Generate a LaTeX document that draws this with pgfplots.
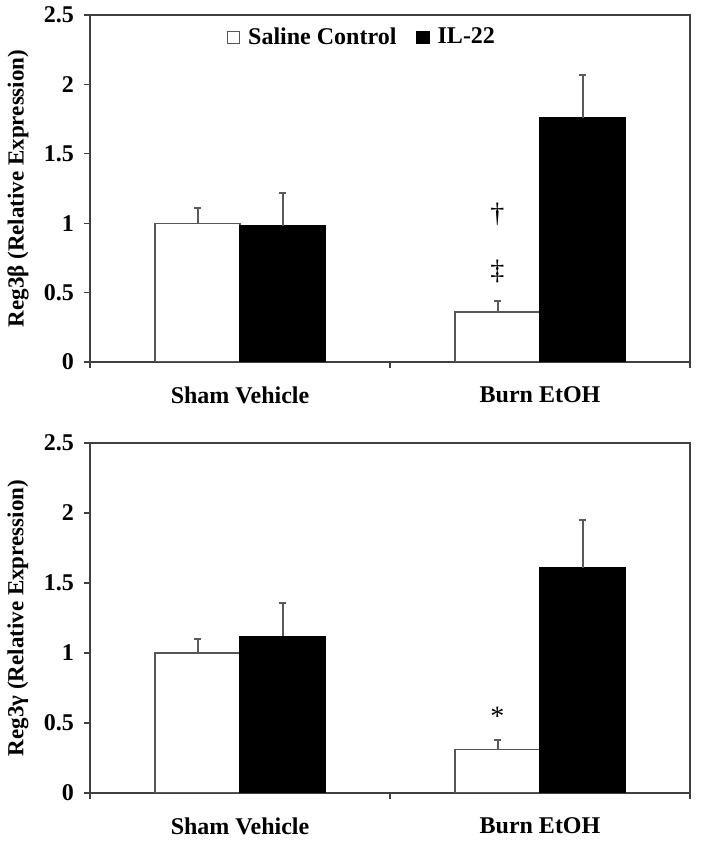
\documentclass[border=0pt]{standalone}
\usepackage{pgfplots}
\pgfplotsset{compat=1.18}
\usepackage{fontspec}
\setmainfont{Liberation Serif}
\definecolor{axgray}{HTML}{404040}
\definecolor{bargray}{HTML}{555555}
\definecolor{errgray}{HTML}{5A5A5A}

% Reg3b: x, mean, +error
\pgfplotstableread{
x y ey
0 1.00 0.11
1 0.36 0.08
}\regbsal
\pgfplotstableread{
x y ey
0 0.98 0.24
1 1.76 0.31
}\regbil
% Reg3g
\pgfplotstableread{
x y ey
0 1.00 0.10
1 0.31 0.07
}\reggsal
\pgfplotstableread{
x y ey
0 1.12 0.24
1 1.61 0.34
}\reggil

\pgfplotsset{
  panel/.style={
    scale only axis, width=300pt,
    xmin=-0.5, xmax=1.5, ymin=0, ymax=2.5,
    axis line style={axgray, line width=0.7pt},
    ytick={0,0.5,...,2.5},
    xtick={-0.5,0.5,1.5}, xticklabels={},
    tick style={axgray, line width=0.6pt},
    tick align=outside, tick pos=left, major tick length=3pt,
    extra x ticks={0,1},
    extra x tick labels={Sham Vehicle, Burn EtOH},
    extra x tick style={major tick length=0pt, tick label style={yshift=-9pt}},
    /pgf/number format/assume math mode=true,
    tick label style={font=\fontsize{12}{14}\selectfont\bfseries},
    yticklabel style={xshift=-1.5pt},
    ylabel style={at={(axis description cs:-0.12,0.5)}, anchor=center,
      font=\fontsize{11.5}{13}\selectfont\bfseries},
    ybar=0pt, bar width=42.5pt,
    error bars/y dir=plus, error bars/y explicit,
    error bars/error bar style={errgray, line width=1pt},
    error bars/error mark options={errgray, line width=1pt, mark size=1.6pt, rotate=90},
    legend image code/.code={\draw[#1] (0pt,-3pt) rectangle (6pt,3pt);},
  },
  salbar/.style={fill=white, draw=bargray, line width=0.6pt, bar shift=-21.25pt},
  ilbar/.style={fill=black, draw=black, line width=0.6pt, bar shift=21.25pt},
}

\begin{document}
\begin{tikzpicture}
\useasboundingbox (0,0) rectangle (350.5pt,424.5pt);

\begin{axis}[panel, at={(45pt,243.5pt)}, anchor=south west, height=173.5pt,
  ylabel={Reg3β (Relative Expression)},
  legend columns=2,
  legend style={at={(0.455,0.935)}, anchor=center, draw=none, fill=none,
    font=\fontsize{12}{14}\selectfont\bfseries,
    /tikz/every even column/.append style={column sep=8pt}},
]
\addplot[salbar] table[x=x, y=y, y error=ey] {\regbsal};
\addplot[ilbar] table[x=x, y=y, y error=ey] {\regbil};
\legend{\hspace{2pt}Saline Control, \hspace{2pt}IL-22}
\node[font=\fontsize{14}{16}\selectfont] at (axis cs:0.858,1.06) {\textdagger};
\node[font=\fontsize{14}{16}\selectfont] at (axis cs:0.858,0.65) {\textdaggerdbl};
\end{axis}

\begin{axis}[panel, at={(45pt,28pt)}, anchor=south west, height=175pt,
  ylabel={Reg3γ (Relative Expression)},
]
\addplot[salbar] table[x=x, y=y, y error=ey] {\reggsal};
\addplot[ilbar] table[x=x, y=y, y error=ey] {\reggil};
\node[font=\fontsize{14}{16}\selectfont] at (axis cs:0.858,0.55) {*};
\end{axis}
\end{tikzpicture}
\end{document}
